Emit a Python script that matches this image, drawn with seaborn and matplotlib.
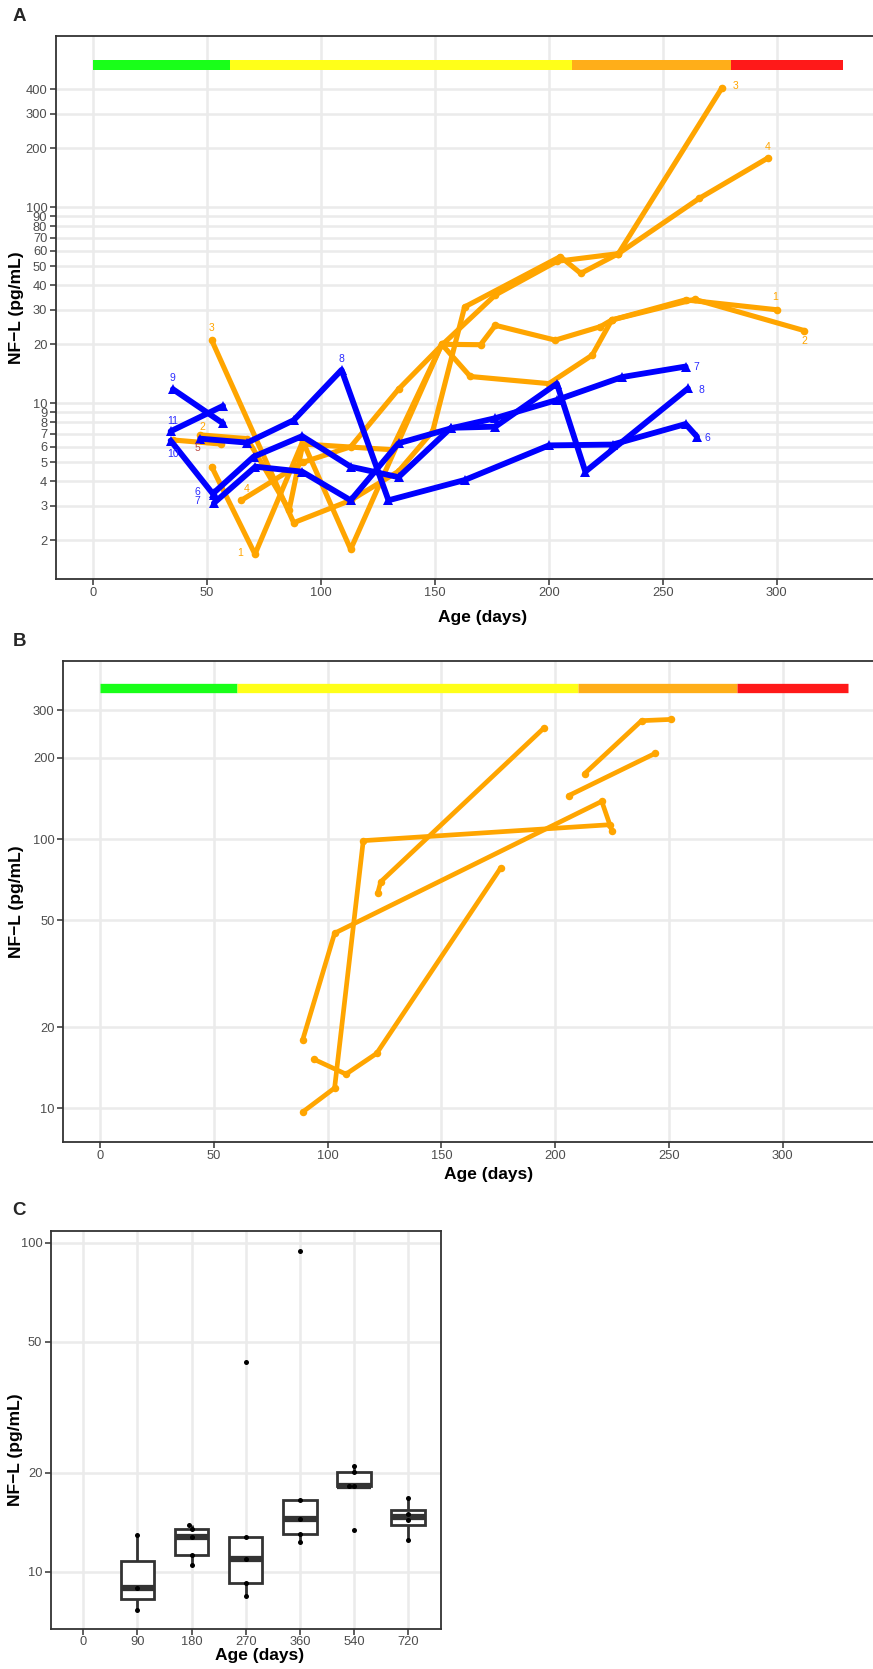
import numpy as np
import pandas as pd
import matplotlib
matplotlib.use("Agg")
import matplotlib.pyplot as plt
import seaborn as sns
from matplotlib.ticker import FixedLocator, FixedFormatter, NullLocator

sns.set_theme(style="white")
plt.rcParams['font.family'] = ['Liberation Sans', 'DejaVu Sans']

# ---------------- data ----------------
STAGE_START = [0, 60, 210, 280]
STAGE_END = [60, 210, 280, 329]
STAGE_COLORS = ['#19FF19', '#FFFF19', '#FFAE19', '#FF1919']

# Panel A, orange subjects (circles)
A_O1_DAY = [52, 71, 92, 113, 153, 165.5, 200, 219, 227.6, 260, 300]
A_O1_NFL = [4.75, 1.7, 6.4, 1.8, 20, 13.7, 12.6, 17.6, 26.6, 33.7, 30]
A_O2_DAY = [47, 67.6, 86, 92, 131, 153, 170, 176.5, 202.8, 222.6, 227.6, 264, 312]
A_O2_NFL = [6.9, 6.6, 2.86, 6.2, 5.8, 20, 19.9, 25, 21, 24.6, 26.6, 33.9, 23.5]
A_O3_DAY = [52, 88, 113, 134, 149, 163, 205, 214, 230.5, 276]
A_O3_NFL = [21, 2.46, 3.2, 4.5, 7.2, 31, 56, 46, 58, 407]
A_O4_DAY = [65, 92, 113, 134, 153, 176.5, 203.5, 230.5, 266, 296]
A_O4_NFL = [3.2, 5.0, 6.0, 11.8, 19.8, 35.7, 53, 58, 111, 178]
A_O5_DAY = [35, 56]
A_O5_NFL = [6.5, 6.2]

# Panel A, blue subjects (triangles)
A_B6_DAY = [47, 67.6, 88, 109, 129.6, 163, 200, 228, 260, 265]
A_B6_NFL = [6.6, 6.3, 8.2, 14.8, 3.2, 4.06, 6.1, 6.16, 7.84, 6.76]
A_B7_DAY = [53, 71.2, 91.7, 113, 134, 157, 176.5, 203.5, 232, 260]
A_B7_NFL = [3.1, 4.75, 4.48, 3.2, 6.25, 7.45, 8.4, 10.4, 13.6, 15.4]
A_B8_DAY = [53, 70.4, 91.7, 113, 134, 157, 176.5, 203.5, 216, 261]
A_B8_NFL = [3.5, 5.34, 6.8, 4.75, 4.2, 7.5, 7.6, 12.6, 4.48, 11.9]
A_B9_DAY = [35, 57]
A_B9_NFL = [11.8, 7.9]
A_B10_DAY = [34, 53]
A_B10_NFL = [6.45, 3.4]
A_B11_DAY = [34, 57]
A_B11_NFL = [7.2, 9.7]

A_LABEL_TEXT = ['3', '9', '11', '2', '10', '5', '6', '7', '4', '1', '8',
                '3', '4', '1', '2', '7', '8', '6']
A_LABEL_DAY = [51.9, 34.9, 34.9, 47.9, 34.9, 45.6, 45.7, 45.7, 67.5, 64.6, 108.8,
               281.7, 295.9, 299.3, 312, 264.6, 266.8, 269.7]
A_LABEL_NFL = [24.1, 13.4, 8.15, 7.55, 5.5, 5.89, 3.51, 3.16, 3.64, 1.72, 16.8,
               416, 204, 34.7, 20.8, 15.4, 11.7, 6.65]
A_LABEL_GROUP = ['o', 'b', 'b', 'o', 'b', 'r', 'b', 'b', 'o', 'o', 'b',
                 'o', 'o', 'o', 'o', 'b', 'b', 'b']

A_YTICKS = [2, 3, 4, 5, 6, 7, 8, 9, 10, 20, 30, 40, 50, 60, 70, 80, 90, 100, 200, 300, 400]
X_TICKS = [0, 50, 100, 150, 200, 250, 300]

# Panel B (orange subjects)
B_S1_DAY = [89, 103, 220.5, 225]
B_S1_NFL = [18, 44.7, 138, 107]
B_S2_DAY = [89, 103, 115.6, 224]
B_S2_NFL = [9.7, 11.9, 98.6, 113]
B_S3_DAY = [94, 108, 121.5, 176]
B_S3_NFL = [15.2, 13.4, 16, 78]
B_S4_DAY = [122, 123.3, 195]
B_S4_NFL = [63.2, 69.4, 258]
B_S5_DAY = [213, 238, 251]
B_S5_NFL = [175, 275, 278]
B_S6_DAY = [206, 244]
B_S6_NFL = [145, 208]
B_YTICKS = [10, 20, 50, 100, 200, 300]

# Panel C (boxplots by age)
C_AGES = ['0', '90', '180', '270', '360', '540', '720']
C_90 = [7.65, 8.94, 12.9]
C_180 = [10.5, 11.2, 12.7, 13.5, 13.9]
C_270 = [8.44, 9.22, 10.95, 12.75, 43.3]
C_360 = [12.3, 13.0, 14.5, 16.5, 94.6]
C_540 = [13.4, 18.2, 18.2, 20.1, 20.96]
C_720 = [12.5, 14.4, 15.0, 16.8]
C_YTICKS = [10, 20, 50, 100]

# ---------------- figure ----------------
W, H = 873, 1669
fig = plt.figure(figsize=(W / 100, H / 100), dpi=100)


def px_axes(left, top, right, bottom):
    return fig.add_axes([left / W, 1 - bottom / H, (right - left) / W, (bottom - top) / H])


GRID = '#EBEBEB'
DARK = '#333333'
TICKC = '#4D4D4D'
ORANGE = '#FFA500'
BLUE = '#0000FF'
LABEL_COLORS = {'o': ORANGE, 'b': '#2B2BFF', 'r': '#B8463F'}


def style_axes(ax, xlabel, ylabel, xl, yl, xpad=2):
    ax.grid(True, color=GRID, linewidth=1.8)
    ax.set_axisbelow(True)
    for s in ax.spines.values():
        s.set_visible(True)
        s.set_color(DARK)
        s.set_linewidth(1.3)
    ax.tick_params(axis='both', which='major', direction='out', length=4, width=1.1,
                   color=DARK, labelcolor=TICKC, labelsize=9.3, pad=2,
                   bottom=True, left=True)
    ax.tick_params(axis='x', which='major', pad=xpad)
    ax.tick_params(axis='both', which='minor', length=0)
    ax.set_xlabel(xlabel, fontsize=12.5, fontweight='bold', color='black')
    ax.set_ylabel(ylabel, fontsize=12.5, fontweight='bold', color='black')
    ax.xaxis.set_label_coords(*xl)
    ax.yaxis.set_label_coords(*yl)
    ax.xaxis.label.set_va('center')
    ax.yaxis.label.set_va('center')


def long_df(series, group):
    rows = []
    for i, (d, v) in enumerate(series):
        for k, (dd, vv) in enumerate(zip(d, v)):
            rows.append({'day': dd, 'nfl': vv, 'id': f'{group}{i}', 'order': k, 'group': group})
    return pd.DataFrame(rows)


def stage_bar(ax, y, lw):
    for s, e, c in zip(STAGE_START, STAGE_END, STAGE_COLORS):
        ax.plot([s, e], [y, y], color=c, linewidth=lw, solid_capstyle='butt', zorder=3)


def log_ticks(ax, ticks):
    ax.yaxis.set_major_locator(FixedLocator(ticks))
    ax.yaxis.set_major_formatter(FixedFormatter([str(t) for t in ticks]))
    ax.yaxis.set_minor_locator(NullLocator())


XLIM = (-16.45, 345.45)

# ---------- Panel A ----------
axA = px_axes(55.7, 35.7, 880.3, 579)
axA.set_yscale('log')
dfA = pd.concat([
    long_df([(A_O1_DAY, A_O1_NFL), (A_O2_DAY, A_O2_NFL), (A_O3_DAY, A_O3_NFL),
             (A_O4_DAY, A_O4_NFL), (A_O5_DAY, A_O5_NFL)], 'o'),
    long_df([(A_B6_DAY, A_B6_NFL), (A_B7_DAY, A_B7_NFL), (A_B8_DAY, A_B8_NFL),
             (A_B9_DAY, A_B9_NFL), (A_B10_DAY, A_B10_NFL), (A_B11_DAY, A_B11_NFL)], 'b'),
], ignore_index=True)
sns.lineplot(data=dfA[dfA.group == 'o'], x='day', y='nfl', units='id', estimator=None,
             sort=False, color=ORANGE, linewidth=3.7, marker='o', markersize=5.5,
             markeredgewidth=0, ax=axA, legend=False, zorder=4)
sns.lineplot(data=dfA[dfA.group == 'b'], x='day', y='nfl', units='id', estimator=None,
             sort=False, color=BLUE, linewidth=4.2, marker='^', markersize=6.5,
             markeredgewidth=0, ax=axA, legend=False, zorder=5)
stage_bar(axA, 530, 7.2)
for t, d, v, g in zip(A_LABEL_TEXT, A_LABEL_DAY, A_LABEL_NFL, A_LABEL_GROUP):
    axA.text(d, v, t, color=LABEL_COLORS[g], fontsize=7.5, ha='center', va='center', zorder=6)
axA.set_xlim(*XLIM)
axA.set_ylim(1.27, 750)
axA.set_xticks(X_TICKS)
axA.set_xticklabels([str(x) for x in X_TICKS])
log_ticks(axA, A_YTICKS)
style_axes(axA, 'Age (days)', 'NF\u2212L (pg/mL)', (0.518, -0.070), (-0.047, 0.5))

# ---------- Panel B ----------
axB = px_axes(63, 661, 885.9, 1141.7)
axB.set_yscale('log')
dfB = long_df([(B_S1_DAY, B_S1_NFL), (B_S2_DAY, B_S2_NFL), (B_S3_DAY, B_S3_NFL),
               (B_S4_DAY, B_S4_NFL), (B_S5_DAY, B_S5_NFL), (B_S6_DAY, B_S6_NFL)], 'o')
sns.lineplot(data=dfB, x='day', y='nfl', units='id', estimator=None, sort=False,
             color=ORANGE, linewidth=3.4, marker='o', markersize=5.4,
             markeredgewidth=0, ax=axB, legend=False, zorder=4)
stage_bar(axB, 365, 6.7)
axB.set_xlim(*XLIM)
axB.set_ylim(7.52, 458)
axB.set_xticks(X_TICKS)
axB.set_xticklabels([str(x) for x in X_TICKS])
log_ticks(axB, B_YTICKS)
style_axes(axB, 'Age (days)', 'NF\u2212L (pg/mL)', (0.517, -0.069), (-0.056, 0.5))

# ---------- Panel C ----------
axC = px_axes(50.7, 1230.7, 440.7, 1629.3)
groups = [('90', C_90), ('180', C_180), ('270', C_270), ('360', C_360),
          ('540', C_540), ('720', C_720)]
dfC = pd.DataFrame([{'age': a, 'nfl': v} for a, vals in groups for v in vals])
sns.boxplot(data=dfC, x='age', y='nfl', order=C_AGES, log_scale=True, width=0.62,
            color='white', linecolor=DARK, linewidth=2.0, showfliers=False,
            showcaps=False, medianprops={'linewidth': 4.5, 'color': DARK},
            ax=axC, zorder=3)
sns.swarmplot(data=dfC, x='age', y='nfl', order=C_AGES, log_scale=True, color='black',
              size=3.6, ax=axC, zorder=5)
axC.set_xlim(-0.6, 6.6)
axC.set_ylim(6.68, 108.7)
log_ticks(axC, C_YTICKS)
style_axes(axC, 'Age (days)', 'NF\u2212L (pg/mL)', (0.536, -0.066), (-0.089, 0.45), xpad=0.5)
axC.grid(True, color=GRID, linewidth=1.8)

# Panel letters
for letter, y in [('A', 16.7), ('B', 641.7), ('C', 1210.7)]:
    fig.text(19 / W, 1 - y / H, letter, fontsize=13.5, fontweight='bold',
             ha='center', va='center')

fig.savefig('out.png', dpi=100, facecolor='white')
